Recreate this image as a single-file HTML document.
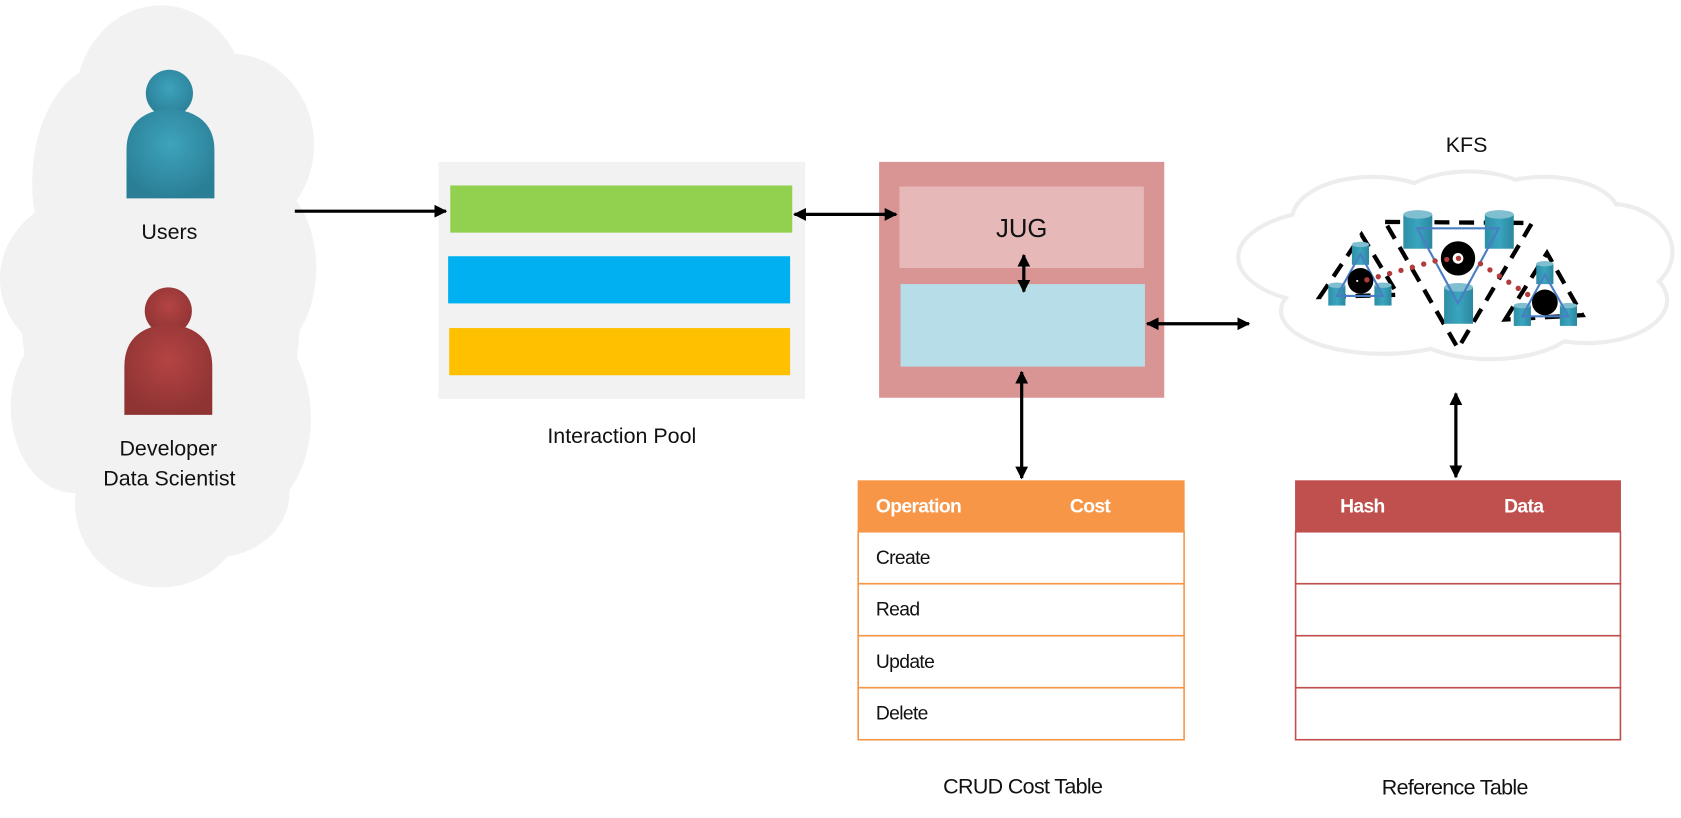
<!DOCTYPE html>
<html><head><meta charset="utf-8"><style>
html,body{margin:0;padding:0;background:#fff;width:1681px;height:818px;overflow:hidden}
svg{display:block}
text{font-family:"Liberation Sans",sans-serif}
.tb{font-family:"Liberation Sans Narrow","Liberation Sans",sans-serif;letter-spacing:-0.6px}
</style></head><body>
<svg width="1681" height="818" viewBox="0 0 1568 763" xmlns="http://www.w3.org/2000/svg">
<defs>
<radialGradient id="gb" cx="50%" cy="40%" r="60%"><stop offset="0" stop-color="#3ea3bd"/><stop offset="1" stop-color="#2a7f96"/></radialGradient>
<radialGradient id="gr" cx="50%" cy="40%" r="60%"><stop offset="0" stop-color="#b54444"/><stop offset="1" stop-color="#8f3333"/></radialGradient>
<linearGradient id="cyl" x1="0" x2="1"><stop offset="0" stop-color="#2e8ea6"/><stop offset="0.5" stop-color="#3aa5bf"/><stop offset="1" stop-color="#2b879e"/></linearGradient>
<marker id="ah" viewBox="0 0 10 10" refX="9" refY="5" markerWidth="4" markerHeight="4" orient="auto-start-reverse"><path d="M0,0 L10,5 L0,10 z" fill="#000"/></marker>
</defs>

<g fill="#f2f2f2">
<ellipse cx="150" cy="95" rx="80" ry="90"/>
<ellipse cx="100" cy="170" rx="70" ry="110"/>
<ellipse cx="215" cy="135" rx="78" ry="85"/>
<ellipse cx="90" cy="260" rx="90" ry="80"/>
<ellipse cx="230" cy="250" rx="65" ry="90"/>
<ellipse cx="70" cy="380" rx="60" ry="80"/>
<ellipse cx="230" cy="390" rx="60" ry="90"/>
<ellipse cx="150" cy="470" rx="80" ry="78"/>
<ellipse cx="200" cy="460" rx="70" ry="60"/>
<ellipse cx="150" cy="290" rx="130" ry="200"/>
</g>

<g>
<circle cx="158" cy="87" r="22" fill="url(#gb)"/>
<path d="M118,185 L118,140 Q118,105 158,101 Q200,105 200,140 L200,185 Z" fill="url(#gb)"/>
</g>
<text x="158" y="223" font-size="20" text-anchor="middle" fill="#111">Users</text>
<g>
<circle cx="157" cy="290" r="22" fill="url(#gr)"/>
<path d="M116,387 L116,342 Q116,306 157,302 Q198,306 198,342 L198,387 Z" fill="url(#gr)"/>
</g>
<text x="157" y="425" font-size="20" text-anchor="middle" fill="#111">Developer</text>
<text x="158" y="453" font-size="20" text-anchor="middle" fill="#111">Data Scientist</text>

<g>
<rect x="409" y="151" width="342" height="221" fill="#f2f2f2"/>
<rect x="420" y="173" width="319" height="44" fill="#92d050"/>
<rect x="418" y="239" width="319" height="44" fill="#00b0f0"/>
<rect x="419" y="306" width="318" height="44" fill="#ffc000"/>
</g>
<text x="580" y="413" font-size="20" text-anchor="middle" fill="#111">Interaction Pool</text>

<g>
<rect x="820" y="151" width="266" height="220" fill="#d99594"/>
<rect x="839" y="174" width="228" height="76" fill="#e6b8b7"/>
<text x="953" y="221" font-size="24" text-anchor="middle" fill="#111">JUG</text>
<rect x="840" y="265" width="228" height="77" fill="#b7dde8"/>
</g>

<text x="1368" y="142" font-size="20" text-anchor="middle" fill="#111">KFS</text>
<g>
<g fill="none" stroke="#ededed" stroke-width="4">
<ellipse cx="1250" cy="240" rx="95" ry="45"/>
<ellipse cx="1280" cy="205" rx="75" ry="40"/>
<ellipse cx="1370" cy="195" rx="70" ry="35"/>
<ellipse cx="1440" cy="200" rx="70" ry="35"/>
<ellipse cx="1500" cy="235" rx="60" ry="45"/>
<ellipse cx="1480" cy="280" rx="75" ry="40"/>
<ellipse cx="1390" cy="295" rx="85" ry="40"/>
<ellipse cx="1290" cy="290" rx="95" ry="40"/>
</g>
<g fill="#fff">
<ellipse cx="1250" cy="240" rx="93" ry="43"/>
<ellipse cx="1280" cy="205" rx="73" ry="38"/>
<ellipse cx="1370" cy="195" rx="68" ry="33"/>
<ellipse cx="1440" cy="200" rx="68" ry="33"/>
<ellipse cx="1500" cy="235" rx="58" ry="43"/>
<ellipse cx="1480" cy="280" rx="73" ry="38"/>
<ellipse cx="1390" cy="295" rx="83" ry="38"/>
<ellipse cx="1290" cy="290" rx="93" ry="38"/>
<ellipse cx="1380" cy="245" rx="150" ry="55"/>
</g>
</g>

<g>
<g fill="none" stroke="#000" stroke-width="4" stroke-dasharray="14,9">
<polygon points="1292,207 1429,208 1360,325"/>
<polygon points="1231,277 1270,219 1304,275"/>
<polygon points="1404,298 1443,236 1476,294"/>
</g>
<g fill="url(#cyl)">
<rect x="1309" y="200" width="27" height="32"/><ellipse cx="1322.5" cy="200" rx="13.5" ry="4" fill="#7fbfcf"/>
<rect x="1385" y="200" width="27" height="32"/><ellipse cx="1398.5" cy="200" rx="13.5" ry="4" fill="#7fbfcf"/>
<rect x="1347" y="268" width="27" height="34"/><ellipse cx="1360.5" cy="268" rx="13.5" ry="4" fill="#7fbfcf"/>
<rect x="1261" y="228" width="16" height="19"/><ellipse cx="1269" cy="228" rx="8" ry="2.5" fill="#7fbfcf"/>
<rect x="1239" y="266" width="16" height="19"/><ellipse cx="1247" cy="266" rx="8" ry="2.5" fill="#7fbfcf"/>
<rect x="1282" y="266" width="16" height="19"/><ellipse cx="1290" cy="266" rx="8" ry="2.5" fill="#7fbfcf"/>
<rect x="1433" y="246" width="16" height="19"/><ellipse cx="1441" cy="246" rx="8" ry="2.5" fill="#7fbfcf"/>
<rect x="1412" y="285" width="16" height="19"/><ellipse cx="1420" cy="285" rx="8" ry="2.5" fill="#7fbfcf"/>
<rect x="1455" y="285" width="16" height="19"/><ellipse cx="1463" cy="285" rx="8" ry="2.5" fill="#7fbfcf"/>
</g>
<g fill="none" stroke="#4a7ec4" stroke-width="2">
<polygon points="1322,213 1398,213 1360,283"/>
<polygon points="1269,237 1247,276 1290,276"/>
<polygon points="1441,256 1420,295 1463,295"/>
</g>
<circle cx="1360" cy="241" r="16" fill="#000"/><circle cx="1360" cy="241" r="5" fill="#fff"/>
<circle cx="1269" cy="262" r="12" fill="#000"/><circle cx="1266" cy="262" r="1" fill="#fff"/>
<circle cx="1441" cy="282" r="12" fill="#000"/>
<polyline points="1275,261 1340,243 1370,240" fill="none" stroke="#b23b3b" stroke-width="5" stroke-linecap="round" stroke-dasharray="0,11"/>
<polyline points="1381,246 1427,276" fill="none" stroke="#b23b3b" stroke-width="5" stroke-linecap="round" stroke-dasharray="0,10.5"/>
</g>

<g>
<rect x="800" y="448" width="305" height="48" fill="#f79646"/>
<text class="tb" x="817" y="478" font-size="18" font-weight="bold" fill="#fff">Operation</text>
<text class="tb" x="998" y="478" font-size="18" font-weight="bold" fill="#fff">Cost</text>
<g fill="#fff" stroke="#f79646" stroke-width="1.5">
<rect x="800.5" y="496" width="304" height="48.5"/>
<rect x="800.5" y="544.5" width="304" height="48.5"/>
<rect x="800.5" y="593" width="304" height="48.5"/>
<rect x="800.5" y="641.5" width="304" height="48.5"/>
</g>
<text class="tb" x="817" y="526" font-size="18" fill="#111">Create</text>
<text class="tb" x="817" y="574" font-size="18" fill="#111">Read</text>
<text class="tb" x="817" y="623" font-size="18" fill="#111">Update</text>
<text class="tb" x="817" y="671" font-size="18" fill="#111">Delete</text>
</g>
<text class="tb" x="954" y="740" font-size="20" text-anchor="middle" fill="#111">CRUD Cost Table</text>

<g>
<rect x="1208" y="448" width="304" height="48" fill="#c0504d"/>
<text class="tb" x="1250" y="478" font-size="18" font-weight="bold" fill="#fff">Hash</text>
<text class="tb" x="1403" y="478" font-size="18" font-weight="bold" fill="#fff">Data</text>
<g fill="#fff" stroke="#c0504d" stroke-width="1.5">
<rect x="1208.5" y="496" width="303" height="48.5"/>
<rect x="1208.5" y="544.5" width="303" height="48.5"/>
<rect x="1208.5" y="593" width="303" height="48.5"/>
<rect x="1208.5" y="641.5" width="303" height="48.5"/>
</g>
</g>
<text class="tb" x="1357" y="741" font-size="20" text-anchor="middle" fill="#111">Reference Table</text>

<line x1="275" y1="197" x2="416" y2="197" stroke="#000" stroke-width="3" marker-end="url(#ah)"/>
<line x1="741" y1="200" x2="836" y2="200" stroke="#000" stroke-width="3" marker-start="url(#ah)" marker-end="url(#ah)"/>
<line x1="955" y1="238" x2="955" y2="272" stroke="#000" stroke-width="3" marker-start="url(#ah)" marker-end="url(#ah)"/>
<line x1="953" y1="347" x2="953" y2="446" stroke="#000" stroke-width="3" marker-start="url(#ah)" marker-end="url(#ah)"/>
<line x1="1070" y1="302" x2="1165" y2="302" stroke="#000" stroke-width="3" marker-start="url(#ah)" marker-end="url(#ah)"/>
<line x1="1358" y1="367" x2="1358" y2="445" stroke="#000" stroke-width="3" marker-start="url(#ah)" marker-end="url(#ah)"/>
</svg>
</body></html>
